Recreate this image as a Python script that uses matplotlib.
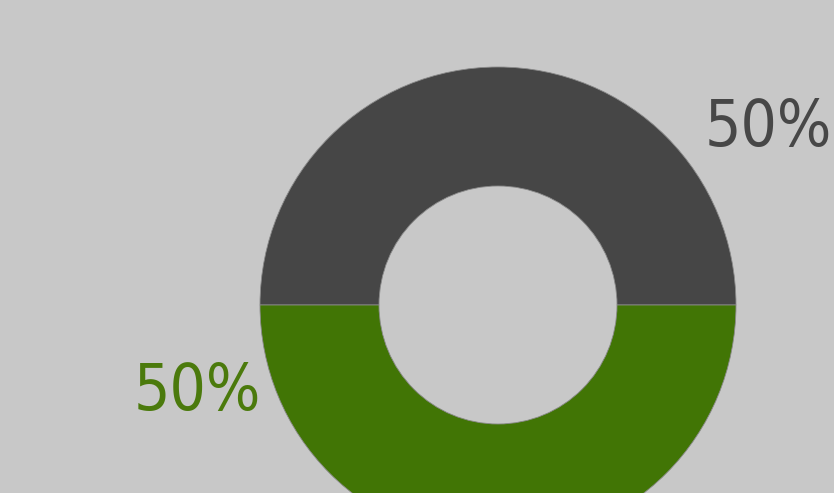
import matplotlib
matplotlib.use("Agg")
import matplotlib.pyplot as plt

# data
labels = ["Dark", "Green"]
values = [50, 50]
pct_text = ["50%", "50%"]
colors = ["#464646", "#417505"]
text_colors = ["#474747", "#4b7a0c"]

W, H = 834, 493
fig = plt.figure(figsize=(W / 100, H / 100), dpi=100)
fig.patch.set_facecolor("#c8c8c8")
ax = fig.add_axes([0, 0, 1, 1])
ax.set_facecolor("#c8c8c8")

cx, cy = 498, H - 305
R = 238
ax.pie(values, colors=colors, startangle=0, counterclock=True,
       center=(cx, cy), radius=R,
       wedgeprops=dict(width=R / 2, edgecolor="#8a8a8a", linewidth=0.6))
ax.set_xlim(0, W)
ax.set_ylim(0, H)
ax.set_aspect("auto")
ax.axis("off")

fam = ["DejaVu Sans"]
ax.text(832, H - 128, pct_text[0], color=text_colors[0], fontsize=46,
        family=fam, stretch="condensed", weight="light", ha="right", va="center")
ax.text(197, H - 392, pct_text[1], color=text_colors[1], fontsize=46,
        family=fam, stretch="condensed", weight="light", ha="center", va="center")

fig.savefig("out.png", dpi=100, facecolor=fig.get_facecolor())
